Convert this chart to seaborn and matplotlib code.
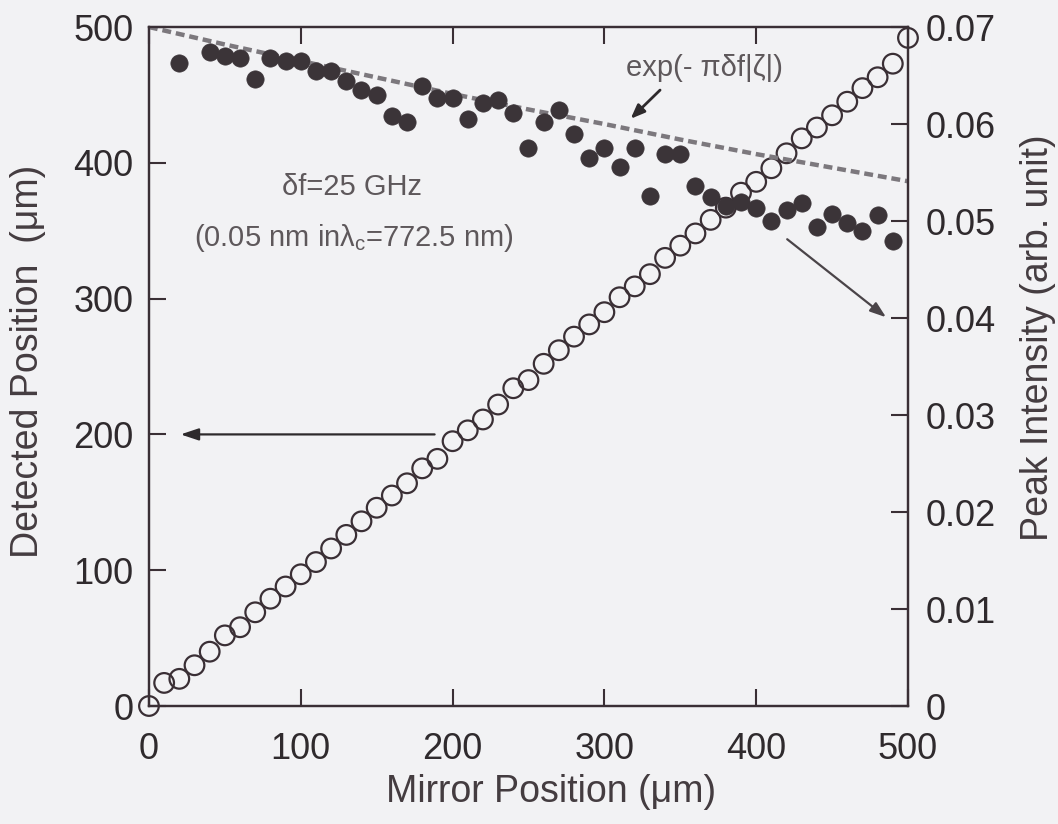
import matplotlib
matplotlib.use("Agg")
import matplotlib.pyplot as plt
from matplotlib import font_manager
import seaborn as sns

# ---------------- data ----------------
mirror_pos = [0, 10, 20, 30, 40, 50, 60, 70, 80, 90, 100, 110, 120, 130, 140, 150, 160, 170, 180, 190,
              200, 210, 220, 230, 240, 250, 260, 270, 280, 290, 300, 310, 320, 330, 340, 350, 360, 370,
              380, 390, 400, 410, 420, 430, 440, 450, 460, 470, 480, 490, 500]
detected_pos = [0, 17, 20, 30, 40, 52, 58, 69, 79, 88, 97, 106, 116, 126, 136, 146, 155, 164, 175, 182,
                195, 203, 211, 222, 234, 240, 252, 262, 272, 281, 290, 301, 309, 318, 330, 339, 348, 358,
                367, 378, 386, 396, 407, 418, 426, 435, 445, 455, 463, 473, 492]

intensity_x = [20, 40, 50, 60, 70, 80, 90, 100, 110, 120, 130, 140, 150, 160, 170, 180, 190, 200, 210,
               220, 230, 240, 250, 260, 270, 280, 290, 300, 310, 320, 330, 340, 350, 360, 370, 380, 390,
               400, 410, 420, 430, 440, 450, 460, 470, 480, 490]
intensity = [0.0663, 0.0674, 0.0670, 0.0668, 0.0646, 0.0668, 0.0665, 0.0665, 0.0655, 0.0655, 0.0644,
             0.0635, 0.0630, 0.0608, 0.0602, 0.0639, 0.0627, 0.0627, 0.0605, 0.0622, 0.0625, 0.0611,
             0.0575, 0.0602, 0.0614, 0.0590, 0.0565, 0.0575, 0.0556, 0.0575, 0.0526, 0.0569, 0.0569,
             0.0536, 0.0525, 0.0515, 0.0520, 0.0513, 0.0500, 0.0511, 0.0519, 0.0494, 0.0507, 0.0498,
             0.0490, 0.0506, 0.0479]

curve_x = [0, 50, 100, 150, 200, 250, 300, 350, 400, 450, 500]
curve_y = [0.0700, 0.0682, 0.0665, 0.0648, 0.0631, 0.0615, 0.0600, 0.0584, 0.0569, 0.0555, 0.0541]

x_ticks = [0, 100, 200, 300, 400, 500]
left_ticks = [0, 100, 200, 300, 400, 500]
right_ticks = [0, 0.01, 0.02, 0.03, 0.04, 0.05, 0.06, 0.07]
right_tick_labels = ["0", "0.01", "0.02", "0.03", "0.04", "0.05", "0.06", "0.07"]

x_label = "Mirror Position (μm)"
left_label = "Detected Position  (μm)"
right_label = "Peak Intensity (arb. unit)"
formula_text = "exp(- πδf|ζ|)"
df_text = "δf=25 GHz"
lambda_text = r"(0.05 nm in$\mathregular{λ_c}$=772.5 nm)"

# ---------------- style ----------------
sns.set_theme(style="ticks")
names = {f.name for f in font_manager.fontManager.ttflist}
base_font = "Liberation Sans" if "Liberation Sans" in names else "DejaVu Sans"
plt.rcParams["font.family"] = [base_font, "DejaVu Sans"]
plt.rcParams["mathtext.fontset"] = "custom"
plt.rcParams["mathtext.rm"] = base_font
plt.rcParams["mathtext.it"] = base_font
plt.rcParams["mathtext.default"] = "regular"

bg = "#f2f2f4"
ink = "#3a2f35"
label_col = "#443c40"
note_col = "#5e585b"

fig = plt.figure(figsize=(10.58, 8.24), dpi=100, facecolor=bg)
ax = fig.add_axes([0.1408, 0.1432, 0.7174, 0.824])
ax.set_facecolor(bg)
ax2 = ax.twinx()
ax2.patch.set_visible(False)

# open circles: detected position (left axis)
sns.scatterplot(x=mirror_pos, y=detected_pos, ax=ax, marker="o", s=200,
                facecolor="none", edgecolor=ink, linewidth=1.6, clip_on=False, zorder=4)

# dashed theoretical curve (right axis)
sns.lineplot(x=curve_x, y=curve_y, ax=ax2, color="#7c787d", linewidth=3.2, zorder=2)
ax2.lines[-1].set_linestyle((0, (2.0, 1.1)))

# filled circles: peak intensity (right axis)
sns.scatterplot(x=intensity_x, y=intensity, ax=ax2, marker="o", s=155,
                color="#3b3438", edgecolor="#3b3438", linewidth=0.5, zorder=3)

# axes limits and ticks
ax.set_xlim(0, 500)
ax.set_ylim(0, 500)
ax2.set_ylim(0, 0.07)
ax.set_xticks(x_ticks)
ax.set_yticks(left_ticks)
ax2.set_yticks(right_ticks)
ax2.set_yticklabels(right_tick_labels)

for a in (ax, ax2):
    for sp in a.spines.values():
        sp.set_color(ink)
        sp.set_linewidth(1.6)
        sp.set_visible(True)

ax.tick_params(axis="both", which="major", direction="in", length=12, width=1.5,
               color=ink, labelcolor="#2f2a2d", labelsize=26, top=True, right=False)
ax.tick_params(axis="x", pad=19)
ax.tick_params(axis="y", pad=11)
ax2.tick_params(axis="y", direction="in", length=12, width=1.5, color=ink,
                labelcolor="#2f2a2d", labelsize=26, pad=13)

ax.set_xlabel(x_label, fontsize=27, color=label_col)
ax.set_ylabel(left_label, fontsize=27, color=label_col)
ax2.set_ylabel(right_label, fontsize=27, color=label_col)
ax.xaxis.set_label_coords(0.53, -0.1)
ax.yaxis.set_label_coords(-0.136, 0.507)
ax2.yaxis.set_label_coords(1.148, 0.543)

# annotations
ax.text(366, 470, formula_text, fontsize=21, color=note_col, ha="center", va="center")
ax.annotate("", xy=(316, 431), xytext=(338, 455),
            arrowprops=dict(arrowstyle="-|>,head_length=0.7,head_width=0.28", color="#2e2a2c", lw=2))
ax.text(134, 382, df_text, fontsize=21, color=note_col, ha="center", va="center")
ax.text(135, 345, lambda_text, fontsize=21, color=note_col, ha="center", va="center")
ax.annotate("", xy=(19, 200), xytext=(190, 200),
            arrowprops=dict(arrowstyle="-|>,head_length=0.9,head_width=0.3", color="#2e2a2c", lw=1.6))
ax.annotate("", xy=(487, 285), xytext=(419, 345),
            arrowprops=dict(arrowstyle="-|>,head_length=0.8,head_width=0.28", color="#4a4448", lw=1.6))

fig.savefig("out.png", dpi=100, facecolor=bg)
